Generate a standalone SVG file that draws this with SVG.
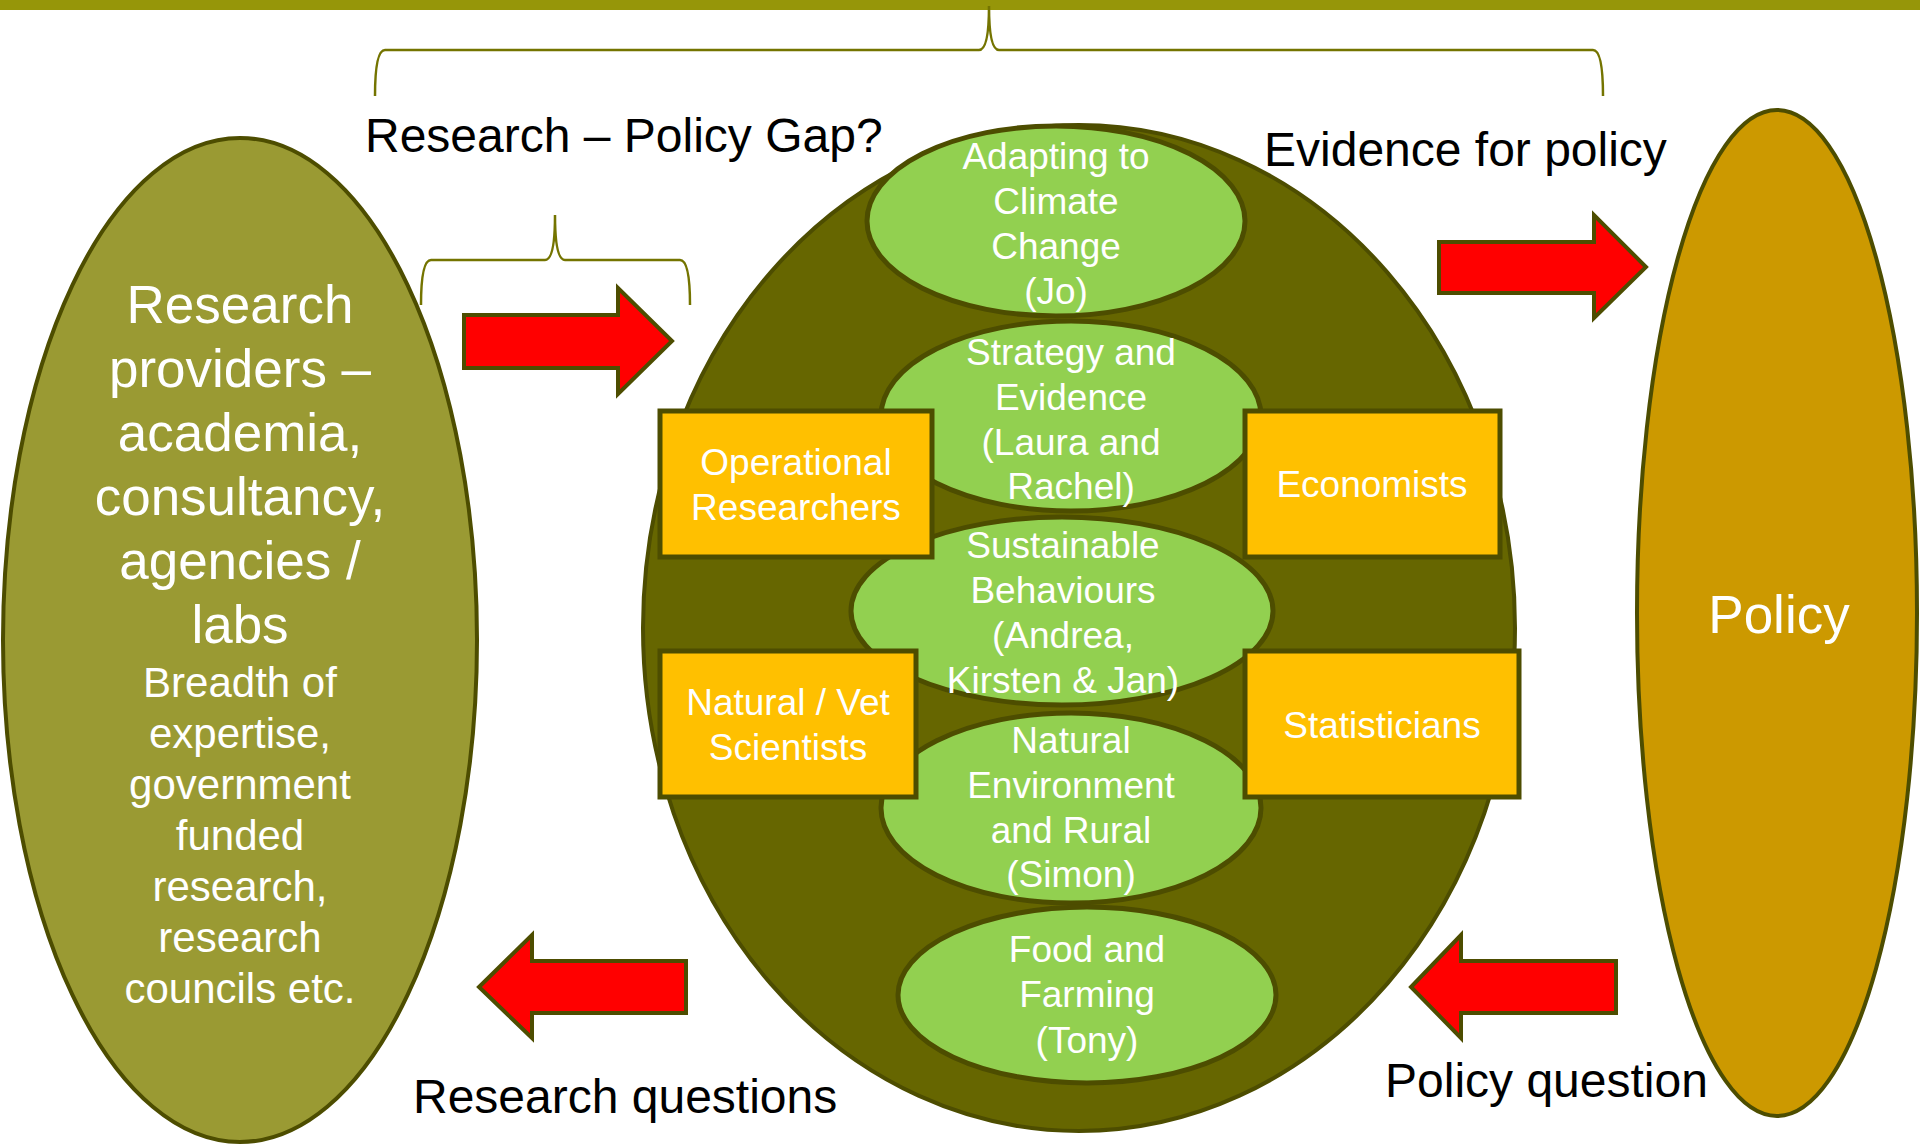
<svg xmlns="http://www.w3.org/2000/svg" width="1920" height="1146" viewBox="0 0 1920 1146">
<style>
.lbl{font-family:"Liberation Sans",Arial,sans-serif;fill:#000;font-size:48px}
.w{font-family:"Liberation Sans",Arial,sans-serif;fill:#fff;text-anchor:middle}
.big{font-size:53px}
.sm{font-size:42px}
.t37{font-size:37px}
.grn{fill:#92D050;stroke:#4D4D00;stroke-width:5}
.box{fill:#FFC000;stroke:#4D4D00;stroke-width:5}
.arrow{fill:#FF0000;stroke:#4D4D00;stroke-width:4;stroke-linejoin:miter}
.brace{fill:none;stroke:#747400;stroke-width:2.5}
</style>
<rect width="1920" height="1146" fill="#fff"/>
<rect x="0" y="0" width="1920" height="10" fill="#969609"/>

<g id="left-providers">
<ellipse cx="240" cy="640" rx="237" ry="502" fill="#9A9A33" stroke="#4D4D00" stroke-width="4"/>
<text class="w big" x="240" y="323">Research</text>
<text class="w big" x="240" y="387">providers –</text>
<text class="w big" x="240" y="451">academia,</text>
<text class="w big" x="240" y="515">consultancy,</text>
<text class="w big" x="240" y="579">agencies /</text>
<text class="w big" x="240" y="643">labs</text>
<text class="w sm" x="240" y="697">Breadth of</text>
<text class="w sm" x="240" y="748">expertise,</text>
<text class="w sm" x="240" y="799">government</text>
<text class="w sm" x="240" y="850">funded</text>
<text class="w sm" x="240" y="901">research,</text>
<text class="w sm" x="240" y="952">research</text>
<text class="w sm" x="240" y="1003">councils etc.</text>
</g>

<g id="center-hub">
<ellipse cx="1079" cy="628" rx="436" ry="503" fill="#666600" stroke="#4D4D00" stroke-width="4"/>
</g>

<g id="adapting">
<ellipse class="grn" cx="1056" cy="221" rx="189" ry="95"/>
<text class="w t37" x="1056" y="169">Adapting to</text>
<text class="w t37" x="1056" y="214">Climate</text>
<text class="w t37" x="1056" y="259">Change</text>
<text class="w t37" x="1056" y="304">(Jo)</text>
</g>
<g id="strategy">
<ellipse class="grn" cx="1071" cy="416" rx="190" ry="95"/>
<text class="w t37" x="1071" y="365">Strategy and</text>
<text class="w t37" x="1071" y="410">Evidence</text>
<text class="w t37" x="1071" y="455">(Laura and</text>
<text class="w t37" x="1071" y="499">Rachel)</text>
</g>
<g id="sustainable">
<ellipse class="grn" cx="1062" cy="611" rx="211" ry="94"/>
<text class="w t37" x="1063" y="558">Sustainable</text>
<text class="w t37" x="1063" y="603">Behaviours</text>
<text class="w t37" x="1063" y="648">(Andrea,</text>
<text class="w t37" x="1063" y="693">Kirsten &amp; Jan)</text>
</g>
<g id="natural-env">
<ellipse class="grn" cx="1071" cy="808" rx="190" ry="95"/>
<text class="w t37" x="1071" y="753">Natural</text>
<text class="w t37" x="1071" y="798">Environment</text>
<text class="w t37" x="1071" y="843">and Rural</text>
<text class="w t37" x="1071" y="887">(Simon)</text>
</g>
<g id="food">
<ellipse class="grn" cx="1087" cy="995" rx="189" ry="88"/>
<text class="w t37" x="1087" y="962">Food and</text>
<text class="w t37" x="1087" y="1007">Farming</text>
<text class="w t37" x="1087" y="1053">(Tony)</text>
</g>

<g id="operational">
<rect class="box" x="660" y="411" width="272" height="146"/>
<text class="w t37" x="796" y="475">Operational</text>
<text class="w t37" x="796" y="520">Researchers</text>
</g>
<g id="natural-vet">
<rect class="box" x="660" y="651" width="256" height="146"/>
<text class="w t37" x="788" y="715">Natural / Vet</text>
<text class="w t37" x="788" y="760">Scientists</text>
</g>
<g id="economists">
<rect class="box" x="1245" y="411" width="255" height="146"/>
<text class="w t37" x="1372" y="497">Economists</text>
</g>
<g id="statisticians">
<rect class="box" x="1245" y="651" width="274" height="146"/>
<text class="w t37" x="1382" y="738">Statisticians</text>
</g>

<g id="policy">
<ellipse cx="1777" cy="613" rx="140" ry="503" fill="#CC9900" stroke="#4D4D00" stroke-width="4"/>
<text class="w big" x="1779" y="633">Policy</text>
</g>

<g id="connectors">
<path class="brace" d="M375,96 Q375,50 385,50 L979,50 Q989,50 989,6 Q989,50 999,50 L1593,50 Q1603,50 1603,96"/>
<path class="brace" d="M421,305 Q421,260 431,260 L545,260 Q555,260 555,215 Q555,260 565,260 L680,260 Q690,260 690,305"/>
<polygon class="arrow" points="464,315 618,315 618,288 672,341 618,394 618,368 464,368"/>
<polygon class="arrow" points="1439,242 1594,242 1594,215 1646,267 1594,318 1594,293 1439,293"/>
<polygon class="arrow" points="686,961 532,961 532,935 479,987 532,1038 532,1013 686,1013"/>
<polygon class="arrow" points="1616,961 1461,961 1461,935 1411,987 1461,1038 1461,1013 1616,1013"/>
</g>

<g id="labels">
<text class="lbl" x="365" y="152">Research – Policy Gap?</text>
<text class="lbl" x="1264" y="166">Evidence for policy</text>
<text class="lbl" x="413" y="1113">Research questions</text>
<text class="lbl" x="1385" y="1097">Policy question</text>
</g>
</svg>
